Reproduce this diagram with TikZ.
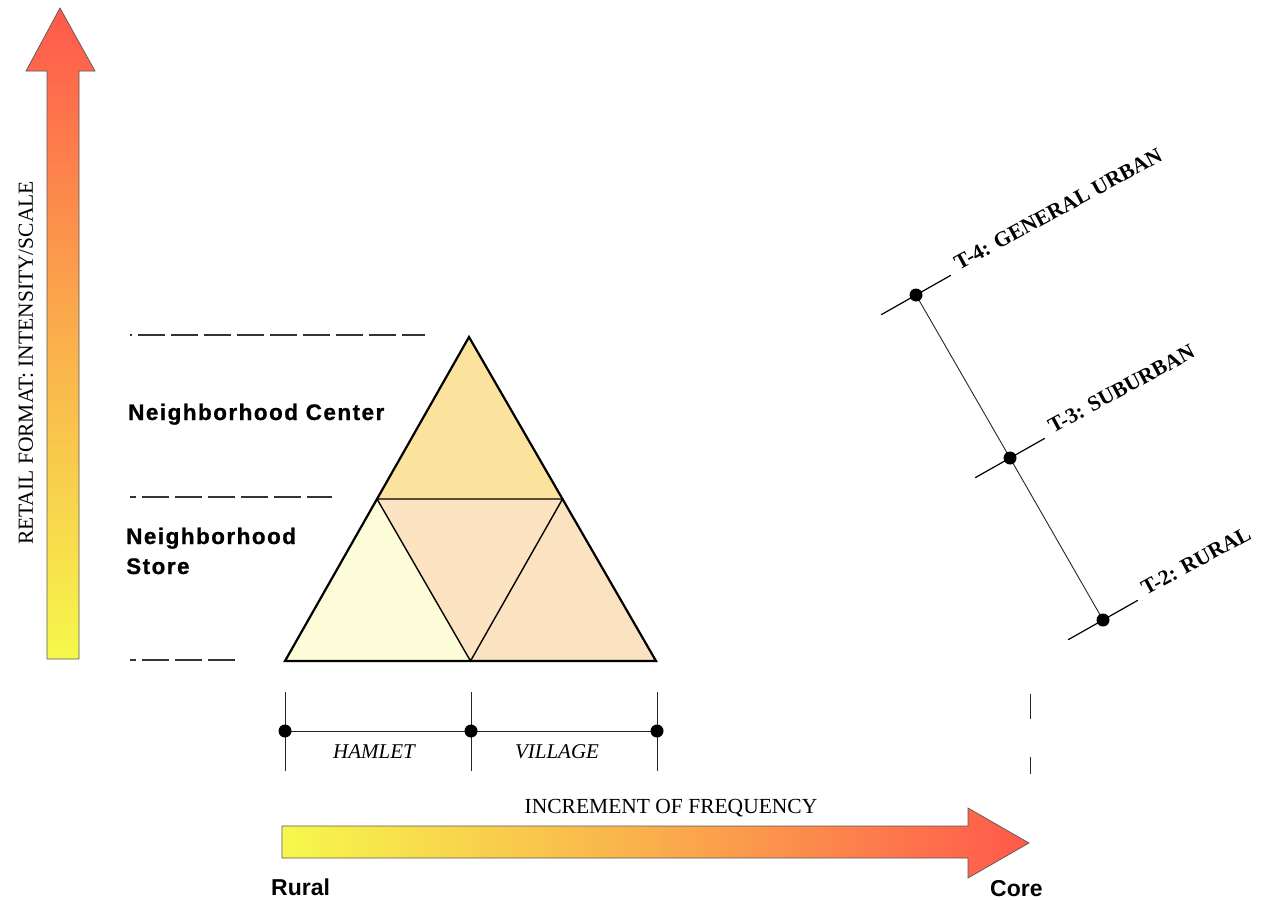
\documentclass[tikz,border=0pt]{standalone}
\usepackage{fontspec}
\setmainfont{Liberation Serif}
\newfontfamily\nbfont[LetterSpace=6.5,BoldFeatures={FakeBold=0.8}]{Liberation Sans}
\newfontfamily\arialf{Liberation Sans}
\usetikzlibrary{calc}
\definecolor{ayellow}{HTML}{F6F84C}
\definecolor{aorange}{HTML}{FAAE4C}
\definecolor{ared}{HTML}{FF584C}
\definecolor{ttop}{HTML}{FBE39E}
\definecolor{tmid}{HTML}{FCE4C2}
\definecolor{tleft}{HTML}{FEFDDA}
\definecolor{tright}{HTML}{FBE2C0}
\begin{document}
\begin{tikzpicture}[x=1pt,y=-1pt,
  dashline/.style={line width=1.1pt, draw=black!80, dash pattern=on 27pt off 6pt, dash phase=21pt},
  arrowout/.style={draw=black!65, line width=0.7pt},
  boldlab/.style={font=\nbfont\bfseries\fontsize{22.5}{30}\selectfont, inner sep=0pt, align=left},
  corelab/.style={font=\arialf\bfseries\fontsize{23}{26}\selectfont, inner sep=0pt},
  tlabel/.style={font=\bfseries\fontsize{21.5}{22}\selectfont, inner sep=0pt, rotate=28.5, anchor=base west},
  scalelab/.style={font=\itshape\fontsize{21}{24}\selectfont, inner sep=0pt},
  axislab/.style={font=\fontsize{21.5}{24}\selectfont, inner sep=0pt},
  dot/.style={circle, fill=black, inner sep=0pt, minimum size=13pt},
  thinline/.style={line width=0.9pt, draw=black!85},
  triout/.style={line width=2.2pt, draw=black, line join=miter},
  triin/.style={line width=1.4pt, draw=black}]
\useasboundingbox (0,0) rectangle (1268,899);
\fill[white] (0,0) rectangle (1268,899);

% vertical arrow
\shade[top color=ared, bottom color=ayellow, middle color=aorange]
  (47,659) -- (47,71) -- (26,71) -- (60,8) -- (95,71) -- (79,71) -- (79,659) -- cycle;
\draw[arrowout] (47,659) -- (47,71) -- (26,71) -- (60,8) -- (95,71) -- (79,71) -- (79,659) -- cycle;
\node[axislab, rotate=90] (vlab) at (26,363) {RETAIL FORMAT: INTENSITY/SCALE};

% dashed levels
\coordinate (l1a) at (130,335); \coordinate (l1b) at (425,335);
\coordinate (l2a) at (130,497); \coordinate (l2b) at (332,497);
\coordinate (l3a) at (130,660); \coordinate (l3b) at (236,660);
\draw[dashline, dash phase=25pt] (l1a) -- (l1b);
\draw[dashline] (l2a) -- (l2b);
\draw[dashline] (l3a) -- (l3b);

\node[boldlab, anchor=base west] (nc) at (128,420) {Neighborhood Center};
\node[boldlab, anchor=base west] (ns) at (126,574) {Neighborhood\\Store};

% triangle
\coordinate (A) at (285,661);
\coordinate (B) at (656,661);
\coordinate (C) at (469,337);
\coordinate (M1) at ($(A)!0.5!(B)$);
\coordinate (M2) at ($(A)!0.5!(C)$);
\coordinate (M3) at ($(B)!0.5!(C)$);
\fill[ttop] (M2) -- (M3) -- (C) -- cycle;
\fill[tmid] (M2) -- (M3) -- (M1) -- cycle;
\fill[tleft] (A) -- (M1) -- (M2) -- cycle;
\fill[tright] (M1) -- (B) -- (M3) -- cycle;
\draw[triin] (M2) -- (M3) -- (M1) -- cycle;
\draw[triout] (A) -- (B) -- (C) -- cycle;

% bottom scale
\coordinate (s1) at (285,731); \coordinate (s2) at (471,731); \coordinate (s3) at (657,731);
\draw[thinline] (285,692) -- (285,771);
\draw[thinline] (471,692) -- (471,771);
\draw[thinline] (657,692) -- (657,771);
\draw[thinline] (s1) -- (s2) -- (s3);
\node[dot] (ds1) at (s1) {};
\node[dot] (ds2) at (s2) {};
\node[dot] (ds3) at (s3) {};
\node[scalelab] (hamlet) at (374,752) {HAMLET};
\node[scalelab] (village) at (557,752) {VILLAGE};
\draw[thinline] (1030,694) -- (1030,719);
\draw[thinline] (1030,757) -- (1030,774);

% horizontal arrow
\node[axislab] (incr) at (671,808) {INCREMENT OF FREQUENCY};
\shade[left color=ayellow, right color=ared, middle color=aorange]
  (282,826) -- (968,826) -- (968,808) -- (1029,843) -- (968,878) -- (968,858) -- (282,858) -- cycle;
\draw[arrowout] (282,826) -- (968,826) -- (968,808) -- (1029,843) -- (968,878) -- (968,858) -- (282,858) -- cycle;
\node[corelab, anchor=base west] (rural) at (271,895) {Rural};
\node[corelab, anchor=base west] (core) at (990,896) {Core};

% transect
\coordinate (d4) at (916,295);
\coordinate (d3) at (1010,458);
\coordinate (d2) at (1103,620);
\draw[thinline] (d4) -- (d3) -- (d2);
\foreach \d in {d4,d3,d2}{
  \draw[line width=1.2pt] ($(\d)+(-34.8,19.7)$) -- ($(\d)+(34.8,-19.7)$);
}
\node[dot] (dd4) at (d4) {};
\node[dot] (dd3) at (d3) {};
\node[dot] (dd2) at (d2) {};
\node[tlabel] (t4) at ($(d4)+(43,-24)$) {T-4: GENERAL URBAN};
\node[tlabel] (t3) at ($(d3)+(43,-24)$) {T-3: SUBURBAN};
\node[tlabel] (t2) at ($(d2)+(43,-24)$) {T-2: RURAL};
\end{tikzpicture}
\end{document}
